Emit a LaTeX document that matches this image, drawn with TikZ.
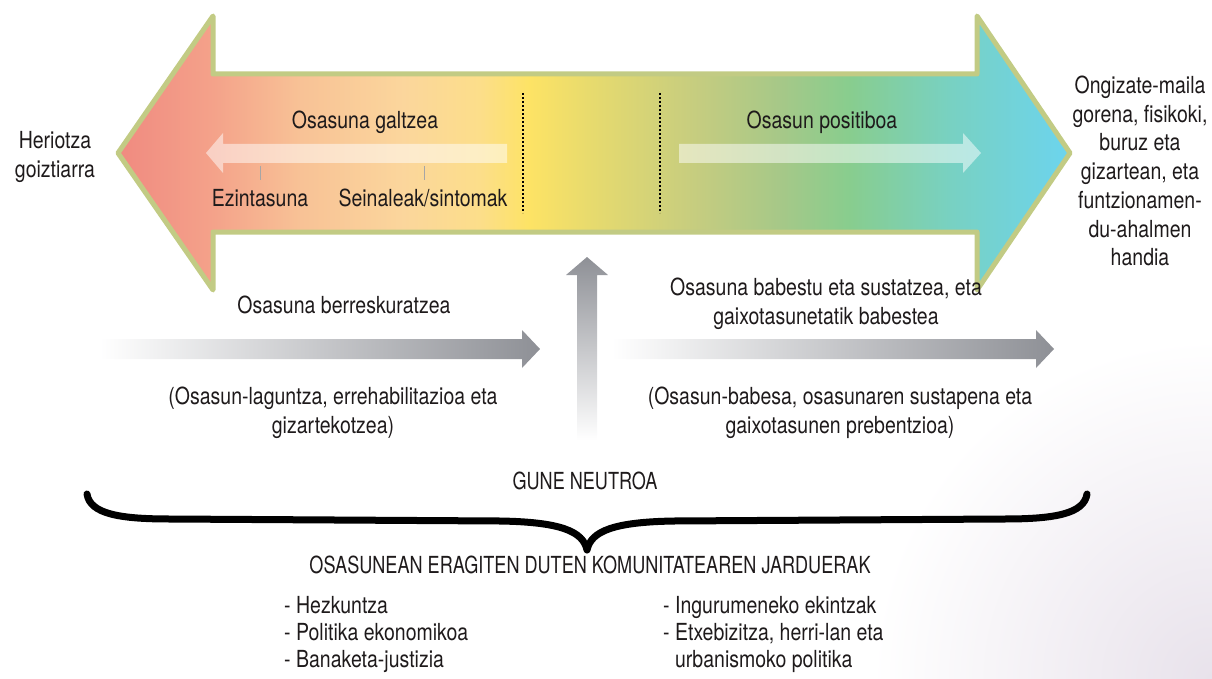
\documentclass[tikz,border=0pt]{standalone}
\usepackage{fontspec}
\setmainfont{TeX Gyre Heros}[FakeStretch=0.83]
\newfontfamily\capsfont{TeX Gyre Heros}[FakeStretch=0.77]
\usetikzlibrary{shadings}
\definecolor{cA}{HTML}{F08A80}
\definecolor{cB}{HTML}{F4A28A}
\definecolor{cC}{HTML}{F8C296}
\definecolor{cD}{HTML}{FBD69C}
\definecolor{cE}{HTML}{FCDE8A}
\definecolor{cF}{HTML}{FDE365}
\definecolor{cG}{HTML}{E6DA6E}
\definecolor{cH}{HTML}{C4CC80}
\definecolor{cI}{HTML}{A6C888}
\definecolor{cJ}{HTML}{88CD8E}
\definecolor{cK}{HTML}{78D1C2}
\definecolor{cL}{HTML}{6CD4EE}
\definecolor{bordergreen}{HTML}{C2CB84}
\definecolor{arrgray}{HTML}{8E9096}
\definecolor{textcol}{HTML}{1E1A1B}
\definecolor{lav}{HTML}{E8E2EB}
\pgfdeclarehorizontalshading{spectrum}{100bp}{color(0bp)=(cA); color(25bp)=(cA); color(30bp)=(cB); color(34.6bp)=(cC); color(40bp)=(cD); color(44bp)=(cE); color(46.6bp)=(cF); color(50bp)=(cG); color(55.6bp)=(cH); color(59.8bp)=(cI); color(63.4bp)=(cJ); color(68.7bp)=(cK); color(75bp)=(cL); color(100bp)=(cL)}
\tikzset{
  txt/.style={font=\fontsize{23.5}{28.7}\selectfont, align=center, inner sep=0pt, text=textcol},
  capstxt/.style={font=\capsfont\fontsize{23.5}{28.7}\selectfont, align=center, inner sep=0pt, text=textcol},
  listtxt/.style={font=\fontsize{23.5}{27}\selectfont, align=left, inner sep=0pt, text=textcol},
  lightarrow/.style={fill=white, fill opacity=0.5, draw=none},
  tickline/.style={draw=gray!70, line width=0.8pt},
  divider/.style={draw=black, line width=1.8pt, dash pattern=on 1.8pt off 2.2pt},
  bracestyle/.style={draw=black, line width=7pt, line cap=round, line join=round}
}
\begin{document}
\begin{tikzpicture}[x=1pt,y=-1pt]
\useasboundingbox (0,0) rectangle (1212,679);
% faint background corner
\begin{scope}
  \clip (0,0) rectangle (1212,679);
  \shade[inner color=lav, outer color=white] (1212,679) circle[radius=340];
\end{scope}
% big double arrow
\shadedraw[shading=spectrum, draw=bordergreen, line width=5pt, line join=round]
  (118,153) -- (213,16) -- (213,74) -- (977,74) -- (977,16) -- (1070,153)
  -- (977,290) -- (977,232) -- (213,232) -- (213,290) -- cycle;
% light inner arrows
\path[lightarrow] (507,144) -- (223,144) -- (223,133) -- (206,153) -- (223,173) -- (223,163) -- (507,163) -- cycle;
\path[lightarrow] (679,144) -- (963,144) -- (963,133) -- (981,153) -- (963,173) -- (963,163) -- (679,163) -- cycle;
% ticks
\coordinate (t1a) at (260,166); \coordinate (t1b) at (260,180);
\coordinate (t2a) at (424,166); \coordinate (t2b) at (424,180);
\draw[tickline] (t1a) -- (t1b);
\draw[tickline] (t2a) -- (t2b);
% dividers
\coordinate (d1a) at (523,93); \coordinate (d1b) at (523,213);
\coordinate (d2a) at (660,93); \coordinate (d2b) at (660,213);
\draw[divider] (d1a) -- (d1b);
\draw[divider] (d2a) -- (d2b);
% texts in arrow
\node[txt] (galtzea) at (365,122) {Osasuna galtzea};
\node[txt] (positiboa) at (822,122) {Osasun positiboa};
\node[txt] (ezin) at (260,198) {Ezintasuna};
\node[txt] (seinale) at (423,198) {Seinaleak/sintomak};
\node[txt] (heriotza) at (55,157) {Heriotza\\goiztiarra};
\node[txt] (ongizate) at (1140,171) {Ongizate-maila\\gorena, fisikoki,\\buruz eta\\gizartean, eta\\funtzionamen-\\du-ahalmen\\handia};
% gray arrows
\shade[left color=white, right color=arrgray]
  (100,339) -- (522,339) -- (522,330) -- (540,349) -- (522,368) -- (522,359) -- (100,359) -- cycle;
\shade[left color=white, right color=arrgray]
  (612,339) -- (1036,339) -- (1036,330) -- (1054,349) -- (1036,368) -- (1036,359) -- (612,359) -- cycle;
\shade[top color=arrgray, bottom color=white]
  (577,440) -- (577,275) -- (566,275) -- (587,257) -- (608,275) -- (597,275) -- (597,440) -- cycle;
% side texts
\node[txt] (berresk) at (344,305) {Osasuna berreskuratzea};
\node[txt] (babestu) at (826,304) {Osasuna babestu eta sustatzea, eta\\gaixotasunetatik babestea};
\node[txt] (laguntza) at (333,413) {(Osasun-laguntza, errehabilitazioa eta\\gizartekotzea)};
\node[txt] (babesa) at (840,413) {(Osasun-babesa, osasunaren sustapena eta\\gaixotasunen prebentzioa)};
% neutral zone and brace
\node[capstxt] (gune) at (585,481) {GUNE NEUTROA};
\coordinate (bl) at (87,494);
\coordinate (bm) at (587,550);
\coordinate (br) at (1087,494);
\draw[bracestyle] (bl) .. controls (90,514) and (120,519) .. (170,519) -- (500,521)
  .. controls (560,522) and (583,531) .. (bm)
  .. controls (591,531) and (614,522) .. (674,521) -- (1004,519)
  .. controls (1054,519) and (1084,514) .. (br);
\node[capstxt] (jarduerak) at (590,565) {OSASUNEAN ERAGITEN DUTEN KOMUNITATEAREN JARDUERAK};
\node[listtxt, anchor=west] (listL) at (284,634) {- Hezkuntza\\- Politika ekonomikoa\\- Banaketa-justizia};
\node[listtxt, anchor=west] (listR) at (663,634) {- Ingurumeneko ekintzak\\- Etxebizitza, herri-lan eta\\\hphantom{- }urbanismoko politika};
\end{tikzpicture}
\end{document}
